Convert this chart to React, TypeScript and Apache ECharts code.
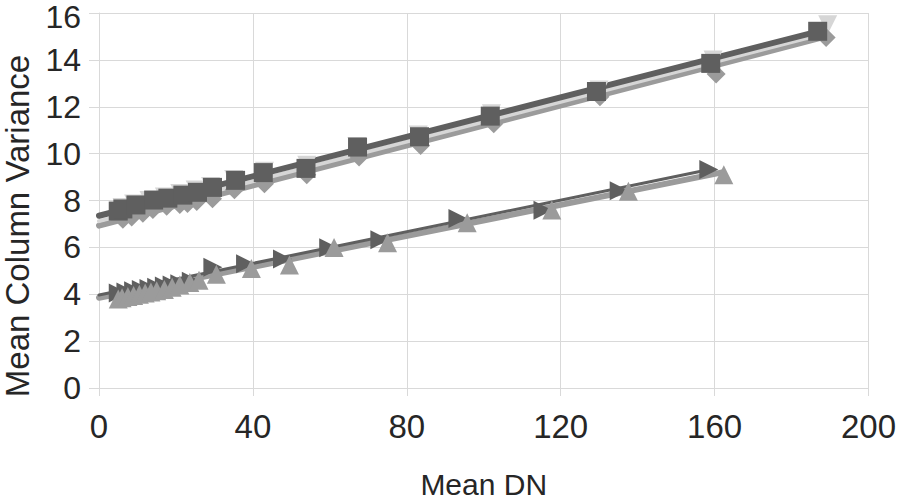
import React, { useEffect, useRef } from "react";
import * as echarts from "echarts";

// Upper group
const squareX = [5, 6.2, 9.6, 14.2, 17.9, 21.8, 25.6, 29.5, 35.5, 42.7, 53.8, 67.2, 83.3, 101.7, 129.3, 159, 186.8];
const squareY = [7.55, 7.64, 7.81, 8.02, 8.1, 8.23, 8.35, 8.56, 8.86, 9.19, 9.37, 10.28, 10.72, 11.6, 12.65, 13.85, 15.22];

const diamondX = [6.2, 8.5, 11.4, 14, 17.6, 21, 23, 25.4, 29.5, 35.2, 43, 54, 67.6, 83.6, 102.6, 130.2, 160.4, 189];
const diamondY = [7.2, 7.3, 7.46, 7.62, 7.75, 7.83, 7.87, 7.96, 8.08, 8.46, 8.71, 9.1, 9.86, 10.35, 11.28, 12.43, 13.4, 14.95];

const downTriX = [6, 9, 13, 17, 21, 25, 29, 35, 43, 54, 67, 83, 102, 130, 159.6, 189.4];
const downTriY = [7.7, 7.85, 8.0, 8.15, 8.3, 8.45, 8.6, 8.9, 9.25, 9.5, 10.3, 10.8, 11.7, 12.72, 14.0, 15.5];

// Lower group
const rightTriX = [5, 7, 9, 11, 13, 15, 17, 19, 21, 24, 29.6, 38.1, 47.7, 59.7, 73, 93.3, 115.4, 135.2, 158.5];
const rightTriY = [4.05, 4.1, 4.15, 4.2, 4.25, 4.3, 4.35, 4.4, 4.45, 4.55, 5.15, 5.3, 5.5, 5.98, 6.33, 7.23, 7.58, 8.42, 9.32];

const upTriX = [5, 6, 7.5, 9, 10.5, 12, 13.5, 15, 17, 19, 21, 23.6, 26, 30.5, 39.6, 49.5, 61.1, 75, 95.7, 117.7, 137.6, 162.4];
const upTriY = [3.8, 3.85, 3.9, 3.95, 4.0, 4.05, 4.1, 4.15, 4.2, 4.3, 4.4, 4.5, 4.6, 4.85, 5.1, 5.25, 6.0, 6.2, 7.05, 7.6, 8.4, 9.1];

// Trend lines (endpoints)
const trendDarkTop = [[0, 7.35], [187, 15.22]];
const trendLightTop = [[0, 7.12], [188, 15.1]];
const trendGreyTop = [[0, 6.93], [189, 15.0]];
const trendDarkBottom = [[0, 3.97], [159, 9.33]];
const trendGreyBottom = [[0, 3.85], [162, 9.2]];

const xTicks = { min: 0, max: 200, interval: 40 };
const yTicks = { min: 0, max: 16, interval: 2 };

const DARK = "#5f5f5f";
const GREY = "#9b9b9b";
const LIGHT = "#d6d6d6";
const GRID = "#d9d9d9";
const TEXT = "#262626";
const FONT = "'Liberation Sans', Arial, sans-serif";

const zip = (xs: number[], ys: number[]) => xs.map((x, i) => [x, ys[i]]);

export default function App() {
  const ref = useRef<HTMLDivElement>(null);
  useEffect(() => {
    if (!ref.current) return;
    const chart = echarts.init(ref.current, undefined, { renderer: "svg" });
    const line = (data: number[][], color: string, width: number, z: number) => ({
      type: "line",
      data,
      showSymbol: false,
      symbol: "none",
      lineStyle: { color, width, cap: "round" },
      z,
      silent: true,
    });
    const scatter = (data: number[][], symbol: string, size: number, color: string, rotate: number, z: number) => ({
      type: "scatter",
      data,
      symbol,
      symbolSize: size,
      symbolRotate: rotate,
      itemStyle: { color, opacity: 1 },
      z,
      silent: true,
    });
    chart.setOption({
      animation: false,
      backgroundColor: "#ffffff",
      textStyle: { fontFamily: FONT },
      grid: { left: 99, right: 28, top: 13, bottom: 108, containLabel: false },
      xAxis: {
        type: "value",
        ...xTicks,
        axisLine: { show: true, lineStyle: { color: GRID, width: 1 } },
        axisTick: { show: true, length: 8, lineStyle: { color: GRID } },
        splitLine: { show: true, lineStyle: { color: GRID, width: 1 } },
        axisLabel: { color: TEXT, fontSize: 33, fontFamily: FONT, margin: 22 },
        name: "Mean DN",
        nameLocation: "middle",
        nameGap: 81,
        nameTextStyle: { color: TEXT, fontSize: 30, fontFamily: FONT },
      },
      yAxis: {
        type: "value",
        ...yTicks,
        axisLine: { show: true, lineStyle: { color: GRID, width: 1 } },
        axisTick: { show: true, length: 10, lineStyle: { color: GRID } },
        splitLine: { show: true, lineStyle: { color: GRID, width: 1 } },
        axisLabel: {
          color: TEXT,
          fontSize: 32,
          fontFamily: FONT,
          margin: 18,
          formatter: (v: number) => (v === yTicks.max ? `{top|${v}}` : `${v}`),
          rich: { top: { fontSize: 32, fontFamily: FONT, color: TEXT, padding: [8, 0, 0, 0] } },
        },
      },
      graphic: [
        {
          type: "text",
          x: 17,
          y: 226,
          rotation: Math.PI / 2,
          style: {
            text: "Mean Column Variance",
            fill: TEXT,
            font: `33px ${FONT}`,
            textAlign: "center",
            textVerticalAlign: "middle",
          },
        },
      ],
      series: [
        line(trendGreyTop, GREY, 6, 1),
        line(trendLightTop, LIGHT, 4, 2),
        line(trendDarkTop, DARK, 6, 3),
        line(trendGreyBottom, GREY, 6, 1),
        line(trendDarkBottom, DARK, 3, 2),
        scatter(zip(downTriX, downTriY), "triangle", 19, LIGHT, 180, 4),
        scatter(zip(diamondX, diamondY), "diamond", 19, GREY, 0, 5),
        scatter(zip(squareX, squareY), "rect", 19, DARK, 0, 6),
        scatter(zip(rightTriX, rightTriY), "triangle", 19, DARK, -90, 4),
        scatter(zip(upTriX, upTriY), "triangle", 19, GREY, 0, 5),
      ],
    });
    return () => chart.dispose();
  }, []);
  return (
    <div
      ref={ref}
      style={{ position: "absolute", left: 0, top: 0, width: 899, height: 504 }}
    />
  );
}
